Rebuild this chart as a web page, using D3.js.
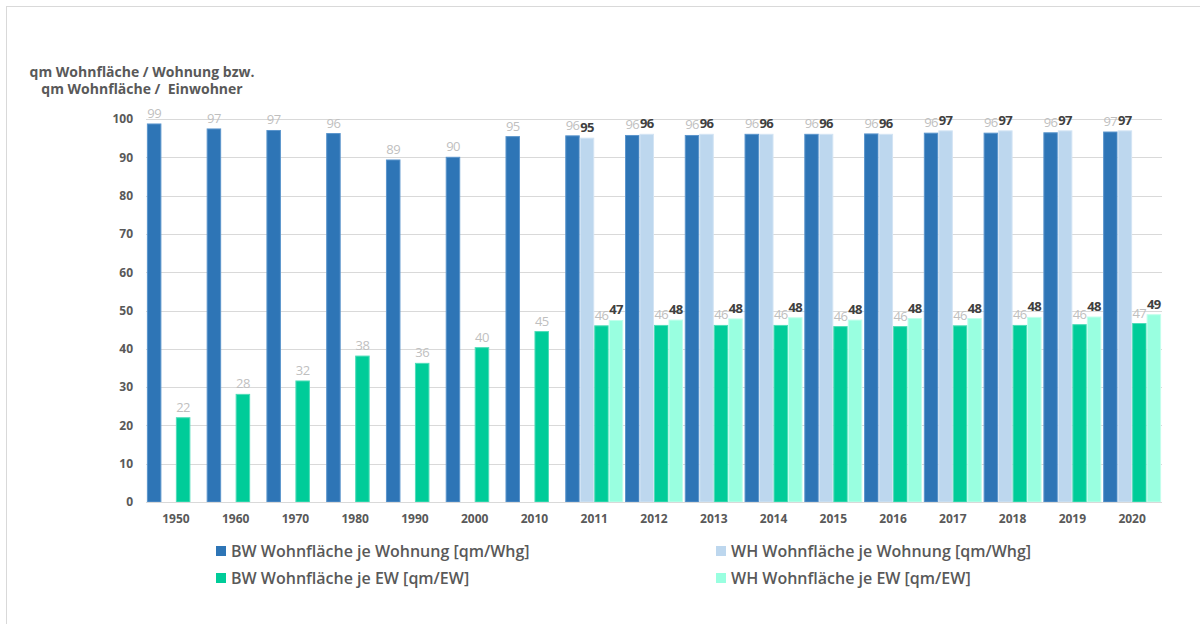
<!DOCTYPE html>
<html>
<head>
<meta charset="utf-8">
<script src="https://cdn.jsdelivr.net/npm/d3@7"></script>
<style>
  html, body { margin: 0; padding: 0; background: #fff; }
  svg { display: block; font-family: "Open Sans", "Noto Sans", sans-serif; }
</style>
</head>
<body>
<svg id="chart" width="1200" height="624"></svg>
<script>
// Wohnfläche je Wohnung und je Einwohner, BW (Land) vs. WH
const years = ["1950","1960","1970","1980","1990","2000","2010","2011","2012","2013","2014","2015","2016","2017","2018","2019","2020"];
const bwWohnung = [98.7, 97.4, 97.0, 96.2, 89.3, 90.0, 95.4, 95.6, 95.7, 95.7, 96.0, 96.0, 96.1, 96.3, 96.3, 96.4, 96.6];
const whWohnung = [null, null, null, null, null, null, null, 95.0, 96.0, 96.0, 96.0, 96.0, 96.0, 96.9, 96.9, 96.9, 96.9];
const bwEinwohner = [22.0, 28.1, 31.6, 38.1, 36.2, 40.3, 44.5, 46.0, 46.1, 46.1, 46.1, 45.8, 45.8, 46.0, 46.1, 46.3, 46.6];
const whEinwohner = [null, null, null, null, null, null, null, 47.4, 47.5, 47.8, 48.1, 47.5, 47.9, 47.9, 48.2, 48.3, 48.9];
const yTicks = [0, 10, 20, 30, 40, 50, 60, 70, 80, 90, 100];
const seriesNames = [
  "BW Wohnfläche je Wohnung [qm/Whg]",
  "WH Wohnfläche je Wohnung [qm/Whg]",
  "BW Wohnfläche je EW [qm/EW]",
  "WH Wohnfläche je EW [qm/EW]"
];
const titleLines = ["qm Wohnfläche / Wohnung bzw.", "qm Wohnfläche /  Einwohner"];

const series = [
  { name: seriesNames[0], values: bwWohnung,   color: "#2E75B6", edge: "#5b95cc", labelColor: "#bfbfbf", labelWeight: 400 },
  { name: seriesNames[1], values: whWohnung,   color: "#BDD7EE", edge: "#d3e4f4", labelColor: "#404040", labelWeight: 700 },
  { name: seriesNames[2], values: bwEinwohner, color: "#00CC99", edge: "#4fdcb8", labelColor: "#bfbfbf", labelWeight: 400 },
  { name: seriesNames[3], values: whEinwohner, color: "#99FFE0", edge: "#c2ffec", labelColor: "#404040", labelWeight: 700 }
];

const svg = d3.select("#chart");
const gridColor = "#d9d9d9";
const axisText = "#595959";

// outer frame (top and left edges)
svg.append("line").attr("x1", 6).attr("x2", 1200).attr("y1", 6.5).attr("y2", 6.5)
  .attr("stroke", gridColor).attr("stroke-width", 1);
svg.append("line").attr("x1", 6.5).attr("x2", 6.5).attr("y1", 6).attr("y2", 624)
  .attr("stroke", gridColor).attr("stroke-width", 1);

const x0 = d3.scaleBand().domain(years).range([146, 1162]).paddingInner(0.03).paddingOuter(0.015);
const x1 = d3.scaleBand().domain(d3.range(series.length)).range([0, x0.bandwidth()]);
const y = d3.scaleLinear().domain([0, 100]).range([502, 119]);

// horizontal gridlines
svg.append("g").selectAll("line").data(yTicks).join("line")
  .attr("x1", 146).attr("x2", 1162)
  .attr("y1", d => Math.round(y(d)) + 0.5).attr("y2", d => Math.round(y(d)) + 0.5)
  .attr("stroke", gridColor).attr("stroke-width", 1);

// y axis labels
const yAxis = d3.axisLeft(y).tickValues(yTicks).tickSize(0).tickPadding(0).tickFormat(d3.format("d"));
svg.append("g").attr("transform", "translate(133,0)").call(yAxis)
  .call(g => g.select(".domain").remove())
  .call(g => g.selectAll("text").attr("fill", axisText).attr("font-size", 12).attr("font-weight", 700)
    .attr("font-family", "'Open Sans', sans-serif"));

// bars
series.forEach((s, si) => {
  const pts = years.map((yr, i) => ({ yr, v: s.values[i] })).filter(p => p.v != null);
  svg.append("g").selectAll("rect").data(pts).join("rect")
    .attr("x", p => x0(p.yr) + x1(si) + 0.5)
    .attr("width", x1.bandwidth() - 1)
    .attr("y", p => y(p.v))
    .attr("height", p => y(0) - y(p.v))
    .attr("fill", s.color)
    .attr("stroke", s.edge).attr("stroke-width", 1);
});

// baseline
svg.append("line").attr("x1", 146).attr("x2", 1162)
  .attr("y1", Math.round(y(0)) + 0.5).attr("y2", Math.round(y(0)) + 0.5)
  .attr("stroke", gridColor).attr("stroke-width", 1);

// value labels
const fmt = d3.format(".0f");
series.forEach((s, si) => {
  const pts = years.map((yr, i) => ({ yr, v: s.values[i] })).filter(p => p.v != null);
  svg.append("g").selectAll("text").data(pts).join("text")
    .attr("x", p => x0(p.yr) + x1(si) + x1.bandwidth() / 2)
    .attr("y", p => y(p.v) - 6)
    .attr("text-anchor", "middle")
    .attr("font-size", 13)
    .attr("font-weight", s.labelWeight)
    .attr("fill", s.labelColor)
    .attr("letter-spacing", -0.6)
    .text(p => fmt(p.v));
});

// x axis labels
const xAxis = d3.axisBottom(x0).tickSize(0).tickPadding(0);
svg.append("g").attr("transform", "translate(0,523)").call(xAxis)
  .call(g => g.select(".domain").remove())
  .call(g => g.selectAll("text").attr("fill", axisText).attr("font-size", 12).attr("font-weight", 700)
    .attr("font-family", "'Open Sans', sans-serif").attr("dy", 0));

// axis title
svg.append("g").selectAll("text").data(titleLines).join("text")
  .attr("x", 142).attr("y", (d, i) => 77 + i * 17)
  .attr("text-anchor", "middle")
  .attr("font-size", 14).attr("font-weight", 700)
  .attr("fill", axisText)
  .style("white-space", "pre")
  .text(d => d);

// legend
const legendPos = [[216, 551], [716, 551], [216, 578], [716, 578]];
const legend = svg.append("g").selectAll("g").data(series).join("g")
  .attr("transform", (d, i) => `translate(${legendPos[i][0]},${legendPos[i][1]})`);
legend.append("rect").attr("x", 0).attr("y", -5).attr("width", 10).attr("height", 10).attr("fill", d => d.color);
legend.append("text").attr("x", 15).attr("y", 0).attr("dy", "0.35em")
  .attr("font-size", 16).attr("fill", axisText).attr("font-weight", 600)
  .text(d => d.name);
</script>
</body>
</html>
